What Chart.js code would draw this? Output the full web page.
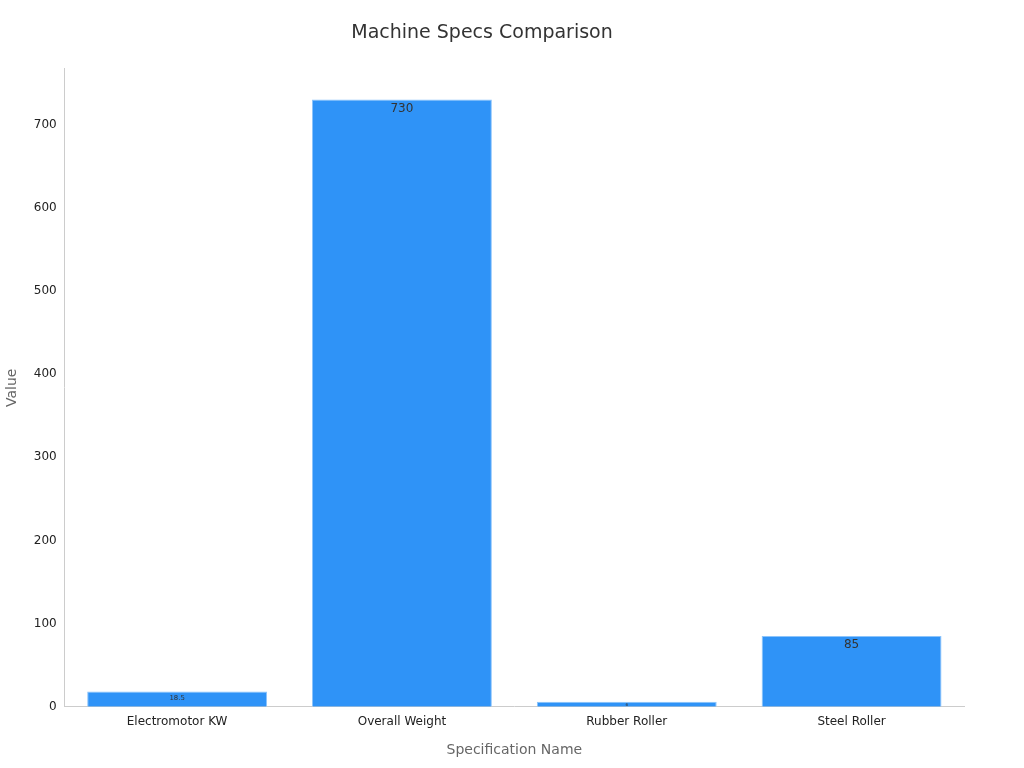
<!DOCTYPE html>
<html>
<head>
<meta charset="utf-8">
<script src="https://cdn.jsdelivr.net/npm/chart.js@4"></script>
<style>
  html, body { margin: 0; padding: 0; background: #fff; }
  #wrap { width: 1024px; height: 768px; }
</style>
</head>
<body>
<div id="wrap"><canvas id="chart"></canvas></div>
<script>
const categories = ['Electromotor KW', 'Overall Weight', 'Rubber Roller', 'Steel Roller'];
const values = [18.5, 730, 6, 85];

// label inside the top of each bar, font shrinks for short bars
const barLabels = {
    id: 'barLabels',
    afterDatasetsDraw(chart) {
        const ctx = chart.ctx;
        const meta = chart.getDatasetMeta(0);
        meta.data.forEach((bar, i) => {
            const h = bar.base - bar.y;
            const size = Math.max(4, Math.min(12, h * 0.45));
            ctx.save();
            ctx.font = size + 'px "DejaVu Sans"';
            ctx.fillStyle = '#333';
            ctx.textAlign = 'center';
            ctx.textBaseline = 'top';
            ctx.fillText(String(values[i]), bar.x, bar.y + Math.min(3, h * 0.2));
            ctx.restore();
        });
    }
};

new Chart(document.getElementById('chart'), {
    type: 'bar',
    data: {
        labels: categories,
        datasets: [{
            data: values,
            backgroundColor: '#2f93f7',
            borderColor: '#8cc4fb',
            borderWidth: 1,
            categoryPercentage: 1.0,
            barPercentage: 0.8
        }]
    },
    options: {
        responsive: true,
        maintainAspectRatio: false,
        animation: false,
        layout: { padding: { left: 0, right: 60, top: 10, bottom: 5 } },
        plugins: {
            legend: { display: false },
            tooltip: { enabled: false },
            title: {
                display: true,
                text: 'Machine Specs Comparison',
                color: '#333',
                font: { family: 'DejaVu Sans', size: 19, weight: 'normal' },
                padding: { top: 12, bottom: 24 }
            }
        },
        scales: {
            x: {
                grid: { display: false, drawTicks: true, tickLength: 5, tickColor: '#888' },
                border: { color: '#ccc' },
                ticks: { color: '#222', font: { family: 'DejaVu Sans', size: 12 } },
                title: {
                    display: true, text: 'Specification Name', color: '#666',
                    font: { family: 'DejaVu Sans', size: 14 }, padding: { top: 10 }
                }
            },
            y: {
                min: 0,
                max: 767,
                grid: { display: false, drawTicks: true, tickLength: 5, tickColor: '#888' },
                border: { color: '#ccc' },
                ticks: {
                    stepSize: 100,
                    color: '#222',
                    font: { family: 'DejaVu Sans', size: 12 },
                    callback: v => (v % 100 === 0 ? v : null)
                },
                title: {
                    display: true, text: 'Value', color: '#666',
                    font: { family: 'DejaVu Sans', size: 14 }, padding: { bottom: 10 }
                }
            }
        }
    },
    plugins: [barLabels]
});
</script>
</body>
</html>
